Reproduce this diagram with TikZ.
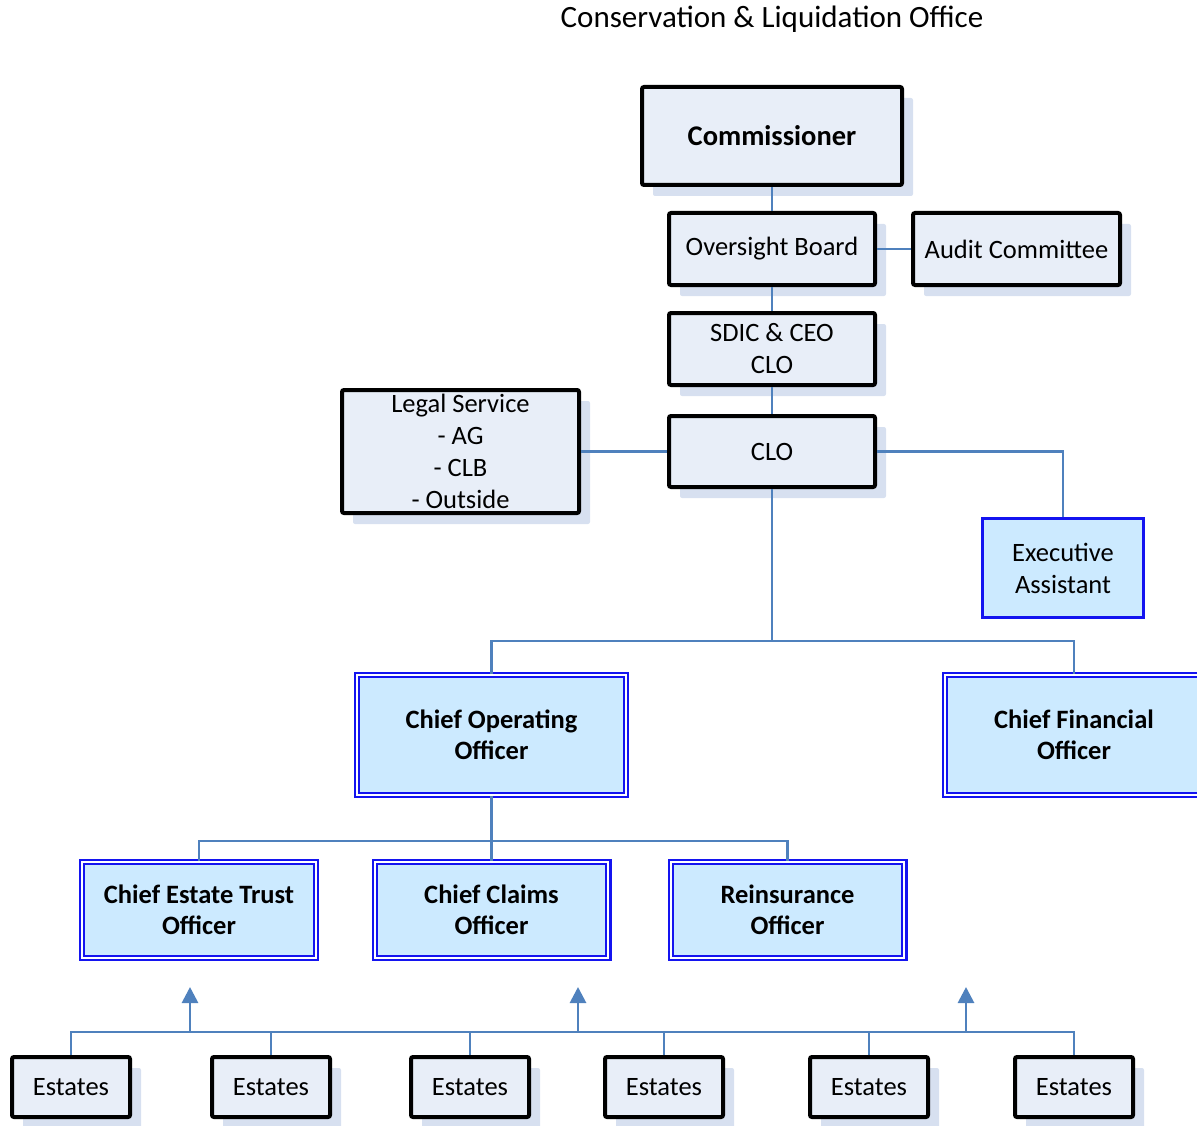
\documentclass[tikz,border=0pt]{standalone}
\usepackage{fontspec}
\setmainfont{Carlito}
\usetikzlibrary{arrows.meta,shadows}
\definecolor{linec}{RGB}{79,129,189}
\definecolor{shadowc}{RGB}{215,224,240}
\definecolor{greyfill}{RGB}{232,238,248}
\definecolor{bluefill}{RGB}{204,234,255}
\definecolor{blueborder}{RGB}{20,20,240}
\begin{document}
\begin{tikzpicture}[x=1pt,y=-1pt,
  every node/.style={font=\fontsize{26.5}{32}\selectfont, align=center, inner sep=0pt},
  blackbox/.style={draw=black, line width=4pt, fill=greyfill, rounded corners=2pt,
     drop shadow={shadow xshift=11pt, shadow yshift=-11pt, fill=shadowc, opacity=1}},
  singleblue/.style={draw=blueborder, line width=3pt, fill=bluefill},
  doubleblue/.style={draw=blueborder, line width=2.2pt, double=white, double distance=2pt, fill=bluefill,
     font=\fontsize{26.5}{31}\selectfont\bfseries},
  conn/.style={draw=linec, line width=2.8pt},
  uparrow/.style={conn, -{Triangle[length=16pt,width=16pt]}}
]
\clip (0,0) rectangle (1197,1126);

\node[font=\fontsize{31}{36}\selectfont] (title) at (772,19) {Conservation \& Liquidation Office};

\node[blackbox, minimum width=260, minimum height=98, font=\fontsize{28.5}{32}\selectfont\bfseries] (comm) at (772,136) {Commissioner};
\node[blackbox, minimum width=206, minimum height=72] (ob) at (772,249) {Oversight Board};
\node[blackbox, minimum width=207, minimum height=72] (ac) at (1016.5,249) {Audit Committee};
\node[blackbox, minimum width=206, minimum height=72] (sdic) at (772,349) {SDIC \& CEO\\CLO};
\node[blackbox, minimum width=206, minimum height=71] (clo) at (772,451.5) {CLO};
\node[blackbox, minimum width=237, minimum height=123] (legal) at (460.5,451.5) {Legal Service\\- AG\\- CLB\\- Outside};
\node[singleblue, minimum width=161, minimum height=99] (exec) at (1063,568) {Executive\\Assistant};

\node[doubleblue, minimum width=268.6, minimum height=119.6] (coo) at (491.5,735) {Chief Operating\\Officer};
\node[doubleblue, minimum width=257.6, minimum height=119.6] (cfo) at (1074,735) {Chief Financial\\Officer};
\node[doubleblue, minimum width=233.6, minimum height=95.6] (cet) at (199,910) {Chief Estate Trust\\Officer};
\node[doubleblue, minimum width=233.6, minimum height=95.6] (cco) at (491.5,910) {Chief Claims\\Officer};
\node[doubleblue, minimum width=233.6, minimum height=95.6] (ro) at (787.5,910) {Reinsurance\\Officer};

\foreach \n/\x in {e1/71,e2/271,e3/470,e4/664,e5/869,e6/1074}{
  \node[blackbox, minimum width=118, minimum height=60] (\n) at (\x,1087) {Estates};
}

% connectors
\draw[conn] (comm) -- (ob);
\draw[conn] (ob) -- (ac);
\draw[conn] (ob) -- (sdic);
\draw[conn] (sdic) -- (clo);
\draw[conn] (legal) -- (clo);
\draw[conn] (clo.east) -| (exec.north);

\coordinate (bus1) at (772,641);
\draw[conn] (clo.south) -- (bus1);
\draw[conn] (coo.north) -- (coo.north |- bus1) -- (cfo.north |- bus1) -- (cfo.north);

\coordinate (bus2) at (491.5,841);
\draw[conn] (coo.south) -- (bus2);
\draw[conn] (cet.north) -- (cet.north |- bus2) -- (ro.north |- bus2) -- (ro.north);
\draw[conn] (bus2) -- (cco.north);

\coordinate (bus3) at (71,1032);
\draw[conn] (e1.north) -- (bus3) -- (e6.north |- bus3) -- (e6.north);
\foreach \n in {e2,e3,e4,e5}{
  \draw[conn] (\n.north) -- (\n.north |- bus3);
}
\coordinate (a1) at (190,1032);
\coordinate (a2) at (578,1032);
\coordinate (a3) at (966,1032);
\coordinate (t1) at (190,987);
\coordinate (t2) at (578,987);
\coordinate (t3) at (966,987);
\draw[uparrow] (a1) -- (t1);
\draw[uparrow] (a2) -- (t2);
\draw[uparrow] (a3) -- (t3);
\end{tikzpicture}
\end{document}
